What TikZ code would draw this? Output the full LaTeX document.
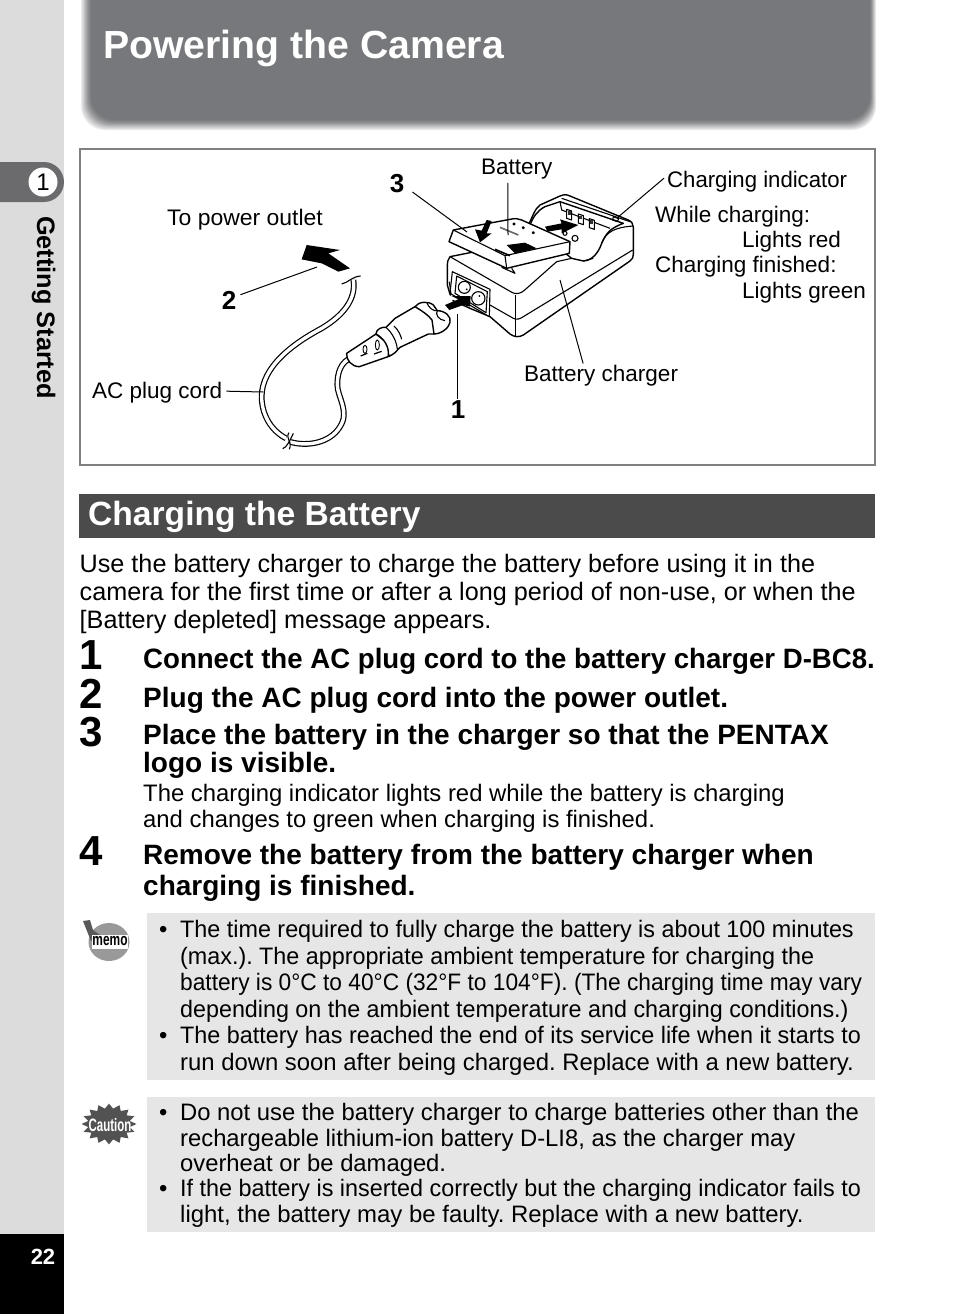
\documentclass[tikz,border=0pt]{standalone}
\usepackage{fontspec}
\setmainfont{Liberation Sans}
\usetikzlibrary{shapes.geometric}
\definecolor{sidegray}{HTML}{DCDCDC}
\definecolor{bannergray}{HTML}{77787B}
\definecolor{tabgray}{HTML}{6B6B6D}
\definecolor{sectiongray}{HTML}{4B4B4B}
\definecolor{notegray}{HTML}{E6E6E6}
\tikzset{
  bodytext/.style={anchor=base west,inner sep=0pt,font=\fontsize{25.2}{28}\selectfont},
  stepnum/.style={anchor=base west,inner sep=0pt,font=\fontsize{42}{42}\selectfont\bfseries},
  steptext/.style={anchor=base west,inner sep=0pt,font=\fontsize{28}{30}\selectfont\bfseries},
  subtext/.style={anchor=base west,inner sep=0pt,font=\fontsize{23.85}{26}\selectfont},
  notetext/.style={anchor=base west,inner sep=0pt,font=\fontsize{23.8}{26}\selectfont},
  figlabel/.style={anchor=base west,inner sep=0pt,font=\fontsize{22.5}{26}\selectfont},
  fignum/.style={inner sep=0pt,font=\fontsize{26}{26}\selectfont\bfseries},
  leader/.style={draw=black,line width=1pt},
  blockarrow/.style={fill=black,draw=none},
  outline/.style={draw=black,line width=1.4pt,line join=round,fill=white},
  thinline/.style={draw=black,line width=1.1pt,line join=round},
  cordline/.style={line width=1.2pt,double=white,double distance=3.4pt,line cap=butt},
}
\begin{document}
\frenchspacing
\begin{tikzpicture}[x=1pt,y=-1pt]
    \useasboundingbox (0,0) rectangle (954,1314);
    % side strip
    \fill[sidegray] (0,0) rectangle (64,1234);
    \fill[black] (0,1234) rectangle (64,1314);
    \fill[tabgray] (0,162) -- (44,162) .. controls (55,162) and (64,171) .. (64,182) .. controls (64,193) and (55,202) .. (44,202) -- (0,202) -- cycle;
    \node[circle,fill=white,minimum size=29pt,inner sep=0pt,font=\fontsize{24}{24}\selectfont] (chapter) at (43,182) {1};
    \node[rotate=-90,anchor=base west,inner sep=0pt,font=\fontsize{25.3}{26}\selectfont\bfseries] (sidetitle) at (37,216) {Getting Started};
    \node[text=white,inner sep=0pt,font=\fontsize{22}{22}\selectfont\bfseries] (pagenum) at (43,1257) {22};
    % banner
    \foreach \inset/\tint in {0/15,1/25,2/35,3/45,4/55,5/65,6/75,7/82,8/90,9/95,10/100}
      \fill[bannergray!\tint!white,rounded corners=24pt] (81+\inset,-30) rectangle (876-\inset*0.6,130-\inset);
    \node[anchor=base west,inner sep=0pt,text=white,font=\fontsize{39.2}{40}\selectfont\bfseries] (title) at (103,59) {Powering the Camera};
    % figure frame
    \draw[draw=black!50,line width=1.2pt] (80,149) rectangle (875,465);

    \begin{scope}[shift={(250,190)},scale=1/3]
      % charger body
      \draw[outline] (600,200) .. controls (593,208) and (592,215) .. (592,235) -- (592,285) -- (605,330) -- (660,355) -- (720,380)
        -- (780,432) .. controls (793,442) and (808,442) .. (820,435) -- (1140,213)
        .. controls (1148,207) and (1150,202) .. (1150,192) -- (1150,112) .. controls (1150,102) and (1145,95) .. (1135,90)
        -- (960,18) .. controls (950,13) and (942,13) .. (930,18) -- (870,45)
        .. controls (855,55) and (848,80) .. (835,105) -- (700,180) -- cycle;
      \draw[outline] (840,105) .. controls (850,80) and (862,62) .. (885,50) -- (930,35) -- (1120,100)
        .. controls (1080,115) and (1068,130) .. (1055,160) .. controls (1045,190) and (1025,212) .. (1000,213) -- (965,205) -- cycle;
      \draw[thinline] (935,25) -- (1140,95);
      \draw[thinline] (930,35) -- (935,60) -- (1080,115);
      \draw[thinline] (1055,160) .. controls (1068,125) and (1095,112) .. (1150,108);
      \draw[thinline] (1000,213) -- (1030,205);
      % contacts
      \foreach \cx/\cy in {950/58,985/72,1018/86} {
        \draw[thinline,fill=white] (\cx,\cy) -- (\cx+15,\cy+5) -- (\cx+15,\cy+32) -- (\cx,\cy+27) -- cycle;
        \fill[black!80] (\cx+3,\cy+5) rectangle (\cx+12,\cy+16);
      }
      \draw[thinline] (1090,80) -- (1106,86) -- (1102,95) -- (1088,90) -- cycle;
      \draw[thinline] (945,130) circle (6);
      \draw[thinline] (975,145) circle (9);
      \fill[blockarrow] (885,110) -- (935,100) -- (930,88) -- (985,105) -- (935,130) -- (935,118) -- (893,125) -- cycle;
      % body edges
      \draw[thinline] (600,200) -- (782,305) .. controls (795,314) and (810,312) .. (822,302) -- (920,215) -- (965,205);
      \draw[thinline] (797,315) -- (797,437);
      \draw[thinline] (720,345) -- (790,385) .. controls (800,390) and (810,387) .. (820,380) -- (1148,180);
      % socket
      \draw[thinline,fill=white] (607,245) -- (720,298) -- (718,380) -- (600,310) -- cycle;
      \draw[thinline] (620,258) -- (712,305) -- (708,368) -- (615,310) -- cycle;
      \draw[thinline] (643,292) circle (18);
      \draw[thinline] (685,325) circle (20);
      \fill[black] (650,298) circle (3);
      \fill[black] (688,318) circle (3);
      \draw[thinline] (598,275) -- (603,312);
      \fill[white] (590,312) -- (612,322) -- (600,345) -- (580,335) -- cycle;
      \fill[blockarrow] (585,345) -- (625,328) -- (605,318) -- (662,318) -- (660,350) -- (640,345) -- (598,360) -- cycle;
      % battery
      \draw[outline] (597,155) -- (610,120) -- (780,88) .. controls (795,85) and (805,85) .. (815,90) -- (960,155) -- (958,190) -- (770,235) -- cycle;
      \draw[thinline] (610,120) -- (765,197) -- (960,155);
      \draw[thinline] (765,197) -- (770,235);
      \draw[thinline] (755,232) -- (795,250) -- (785,235);
      \fill[blockarrow] (710,90) -- (725,93) -- (710,130) -- (725,130) -- (690,157) -- (675,118) -- (695,122) -- cycle;
      \fill[black] (770,165) -- (825,158) -- (860,175) -- (795,190) -- cycle;
      \draw[line width=1.6pt] (735,178) -- (780,197);
      \foreach \cx/\cy in {792/102,820/113,850/128}
        \draw[thinline] (\cx,\cy) circle (3);
      \draw[line width=1.6pt,black!60] (750,112) -- (805,135);
      % cord
      \draw[cordline] (310,270) .. controls (318,320) and (290,370) .. (215,415)
        .. controls (130,460) and (35,530) .. (35,620) .. controls (35,670) and (60,720) .. (108,745);
      \draw[cordline] (122,756) .. controls (170,770) and (240,760) .. (270,710)
        .. controls (300,665) and (262,620) .. (262,585) .. controls (262,550) and (270,515) .. (310,500);
      \draw[thinline] (275,282) .. controls (295,278) and (305,260) .. (332,258);
      \draw[thinline] (117,728) .. controls (105,745) and (128,755) .. (118,778);
      \draw[thinline] (98,776) .. controls (110,772) and (118,755) .. (130,730);
      \fill[blockarrow] (155,208) -- (170,165) -- (270,180) -- (235,190) -- (300,235) -- (265,245) -- (215,220) -- cycle;
      % plug
      \draw[outline] (290,490) .. controls (288,510) and (305,530) .. (328,530) -- (420,498) -- (425,470) -- (378,432) -- cycle;
      \draw[outline] (495,350) .. controls (505,335) and (535,332) .. (550,345) -- (562,362) .. controls (585,362) and (605,380) .. (600,397) .. controls (598,412) and (575,432) .. (552,432) -- cycle;
      \draw[outline] (378,432) .. controls (378,418) and (395,410) .. (408,412) -- (435,385) -- (495,350) .. controls (515,362) and (535,375) .. (546,390) -- (552,432) -- (535,432) -- (450,472) -- (435,488) .. controls (428,495) and (420,498) .. (415,497) .. controls (418,470) and (402,445) .. (378,432) -- cycle;
      \draw[thinline] (408,412) .. controls (428,430) and (440,455) .. (442,478);
      \draw[thinline] (530,337) .. controls (535,352) and (550,365) .. (562,362);
      \draw[thinline] (562,362) .. controls (555,372) and (565,390) .. (585,392);
      \draw[thinline] (432,408) .. controls (445,420) and (452,435) .. (455,448);
      \foreach \sx/\sy/\slen in {345/478/12,382/465/15}
        \draw[line width=0.9pt] (\sx,\sy) ellipse [x radius=6,y radius=\slen];
      \draw[line width=1.2pt] (332,498) -- (352,490);
      \draw[line width=1.2pt] (372,492) -- (395,484);
    \end{scope}

    % figure labels
    \node[fignum] (num-three) at (397,184) {3};
    \node[fignum] (num-two) at (229,300) {2};
    \node[fignum] (num-one) at (458,410) {1};
    \node[figlabel] (battery) at (481,174) {Battery};
    \node[figlabel,xscale=0.985] (indicator) at (667,187) {Charging indicator};
    \node[figlabel] (while) at (655,222) {While charging:};
    \node[figlabel] (red) at (742,247) {Lights red};
    \node[figlabel] (finished) at (655,272) {Charging finished:};
    \node[figlabel] (green) at (742,298) {Lights green};
    \node[figlabel,xscale=1.02] (outlet) at (167,225) {To power outlet};
    \node[figlabel] (cord) at (92,398) {AC plug cord};
    \node[figlabel] (charger) at (524,381) {Battery charger};
    \coordinate (cord-end) at (263,392);
    \coordinate (socket-end) at (457,314);
    \coordinate (arrow-end) at (317,267);
    \coordinate (pack-end) at (467,232);
    \coordinate (pack-top) at (508,235);
    \coordinate (lamp-end) at (617,218);
    \coordinate (body-end) at (560,280);
    \draw[leader] (cord.east) ++(4,-1) -- (cord-end);
    \draw[leader] (num-one.north) ++(-1,-2) -- (socket-end);
    \draw[leader] (num-two.north east) ++(4,4) -- (arrow-end);
    \draw[leader] (num-three.east) ++(8,8) -- (pack-end);
    \draw[leader] (battery.south) ++(-9,4) -- (pack-top);
    \draw[leader] (indicator.west) ++(-3,-3) -- (lamp-end);
    \draw[leader] (charger.north) ++(-18,-1) -- (body-end);

    % section bar
    \fill[sectiongray] (79,494) rectangle (875,538);
    \node[anchor=base west,inner sep=0pt,text=white,font=\fontsize{33.6}{34}\selectfont\bfseries] (section) at (88,525) {Charging the Battery};

    % intro
    \node[bodytext] (intro-a) at (79.5,572) {Use the battery charger to charge the battery before using it in the};
    \node[bodytext] (intro-b) at (79.5,600) {camera for the first time or after a long period of non-use, or when the};
    \node[bodytext] (intro-c) at (79.5,628) {[Battery depleted] message appears.};

    % steps
    \node[stepnum] (one) at (79,669) {1};
    \node[steptext,xscale=0.986] (one-a) at (143,668) {Connect the AC plug cord to the battery charger D-BC8.};
    \node[stepnum] (two) at (79,708) {2};
    \node[steptext] (two-a) at (143,707) {Plug the AC plug cord into the power outlet.};
    \node[stepnum] (three) at (79,746) {3};
    \node[steptext] (three-a) at (143,744) {Place the battery in the charger so that the PENTAX};
    \node[steptext] (three-b) at (143,772) {logo is visible.};
    \node[subtext] (three-c) at (143,801) {The charging indicator lights red while the battery is charging};
    \node[subtext] (three-d) at (143,827) {and changes to green when charging is finished.};
    \node[stepnum] (four) at (79,865) {4};
    \node[steptext] (four-a) at (143,864) {Remove the battery from the battery charger when};
    \node[steptext] (four-b) at (143,895) {charging is finished.};

    % memo box
    \fill[notegray] (147,913) rectangle (875,1080);
    \node[ellipse,fill=black!40,minimum width=41pt,minimum height=38pt,inner sep=0pt] (memo-disc) at (109,942) {};
    \fill[black!65] (83,921) -- (90,920) -- (93,930) -- (100,935) -- (91,941) -- (87,931) -- cycle;
    \fill[white] (92,935) rectangle (128,949);
    \node[inner sep=0pt,xscale=0.7,font=\fontsize{17}{17}\selectfont\bfseries] (memo) at (110,941) {memo};
    \node[notetext] (memo-bullet-a) at (159,937) {•};
    \node[notetext,xscale=0.981] (memo-a) at (180,937) {The time required to fully charge the battery is about 100 minutes};
    \node[notetext,xscale=0.98] (memo-b) at (180,964) {(max.). The appropriate ambient temperature for charging the};
    \node[notetext,xscale=0.955] (memo-c) at (180,990) {battery is 0°C to 40°C (32°F to 104°F). (The charging time may vary};
    \node[notetext,xscale=0.979] (memo-d) at (180,1017) {depending on the ambient temperature and charging conditions.)};
    \node[notetext] (memo-bullet-b) at (159,1043) {•};
    \node[notetext,xscale=0.982] (memo-e) at (180,1043) {The battery has reached the end of its service life when it starts to};
    \node[notetext,xscale=1.003] (memo-f) at (180,1070) {run down soon after being charged. Replace with a new battery.};

    % caution box
    \fill[notegray] (147,1097) rectangle (875,1232);
    \node[star,star points=16,star point ratio=1.3,fill=black!68,minimum size=55pt,yscale=0.74,inner sep=0pt] (burst) at (109,1124) {};
    \node[inner sep=0pt,text=white,xscale=0.64,font=\fontsize{18}{18}\selectfont\bfseries] (caution) at (110,1125) {Caution};
    \node[notetext] (caution-bullet-a) at (159,1120) {•};
    \node[notetext] (caution-a) at (180,1120) {Do not use the battery charger to charge batteries other than the};
    \node[notetext] (caution-b) at (180,1146) {rechargeable lithium-ion battery D-LI8, as the charger may};
    \node[notetext] (caution-c) at (180,1171) {overheat or be damaged.};
    \node[notetext] (caution-bullet-b) at (159,1196) {•};
    \node[notetext,xscale=0.982] (caution-d) at (180,1196) {If the battery is inserted correctly but the charging indicator fails to};
    \node[notetext,xscale=1.006] (caution-e) at (180,1222) {light, the battery may be faulty. Replace with a new battery.};
\end{tikzpicture}
\end{document}
